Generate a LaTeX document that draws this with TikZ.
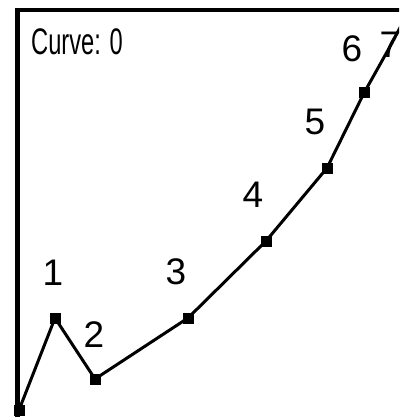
\documentclass[tikz,border=0pt]{standalone}
\usepackage{fontspec}
\setmainfont{Liberation Sans}
\begin{document}
\begin{tikzpicture}[x=1pt,y=-1pt,
  lbl/.style={inner sep=0pt,font=\fontsize{37}{37}\selectfont},
  mk/.style={fill=black,minimum size=11pt,inner sep=0pt,draw=none,rectangle},
  frame/.style={line width=4.5pt},
  crv/.style={line width=3pt}]
\useasboundingbox (0,0) rectangle (399,417);
\begin{scope}
\clip (0,0) rectangle (399,417);
\draw[frame] (17.5,430) -- (17.5,10) -- (420,10);
\coordinate (p0) at (19,410);
\coordinate (p1) at (55,318);
\coordinate (p2) at (95,379);
\coordinate (p3) at (188,318);
\coordinate (p4) at (266,241);
\coordinate (p5) at (327,168);
\coordinate (p6) at (364,93);
\coordinate (p7) at (392,43);
\coordinate (pe) at (404,20);
\draw[crv] (p0) -- (p1) -- (p2) -- (p3) -- (p4) -- (p5) -- (p6) -- (p7) -- (pe);
\foreach \p in {p0,p1,p2,p3,p4,p5,p6} \node[mk] at (\p) {};
\end{scope}
\node[lbl,anchor=west] (title) at (31,42) {\scalebox{0.64}[1]{Curve: 0}};
\node[lbl] (l1) at (53,273) {1};
\node[lbl] (l2) at (94,335) {2};
\node[lbl] (l3) at (176,272) {3};
\node[lbl] (l4) at (253,195) {4};
\node[lbl] (l5) at (315,122) {5};
\node[lbl] (l6) at (352,49) {6};
\node[lbl] (l7) at (390,45) {7};
\end{tikzpicture}
\end{document}
